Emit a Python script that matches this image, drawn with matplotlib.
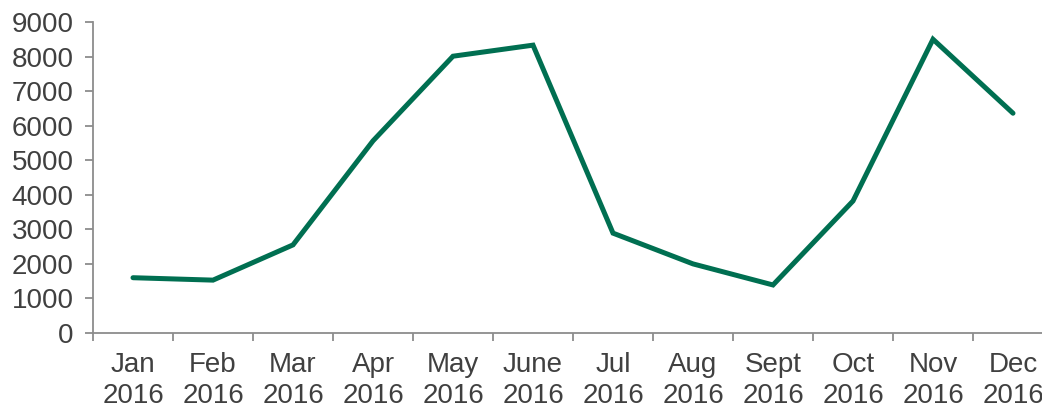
import matplotlib
matplotlib.use("Agg")
import matplotlib.pyplot as plt
import numpy as np

months = ["Jan\n2016", "Feb\n2016", "Mar\n2016", "Apr\n2016", "May\n2016", "June\n2016",
          "Jul\n2016", "Aug\n2016", "Sept\n2016", "Oct\n2016", "Nov\n2016", "Dec\n2016"]
values = [1600, 1530, 2550, 5560, 8010, 8330, 2890, 2000, 1390, 3820, 8500, 6360]

plt.rcParams["font.family"] = ["Liberation Sans", "DejaVu Sans"]

fig = plt.figure(figsize=(10.42, 4.08), dpi=100)
ax = fig.add_axes([93 / 1042, 1 - 333 / 408, 960 / 1042, 311 / 408])

x = np.arange(len(months))
ax.plot(x, values, color="#006F51", linewidth=3.6, solid_joinstyle="miter", solid_capstyle="round")

ax.set_xlim(-0.5, len(months) - 0.5)
ax.set_ylim(0, 9000)
ax.set_yticks(range(0, 9001, 1000))

ax.set_xticks(x)
ax.set_xticklabels(months)
ax.set_xticks(np.arange(-0.5, len(months), 1), minor=True)

axis_gray = "#8C8C8C"
text_gray = "#404040"
for side in ["top", "right"]:
    ax.spines[side].set_visible(False)
for side in ["left", "bottom"]:
    ax.spines[side].set_color(axis_gray)
    ax.spines[side].set_linewidth(1.3)

ax.tick_params(axis="x", which="major", length=0, pad=14, labelsize=20, colors=text_gray)
ax.tick_params(axis="x", which="minor", length=6, width=1.3, color=axis_gray)
ax.tick_params(axis="y", length=6, width=1.3, color=axis_gray, labelsize=20,
               labelcolor=text_gray, pad=8)
for lbl in ax.get_xticklabels():
    lbl.set_linespacing(1.25)

fig.savefig("out.png", dpi=100)
